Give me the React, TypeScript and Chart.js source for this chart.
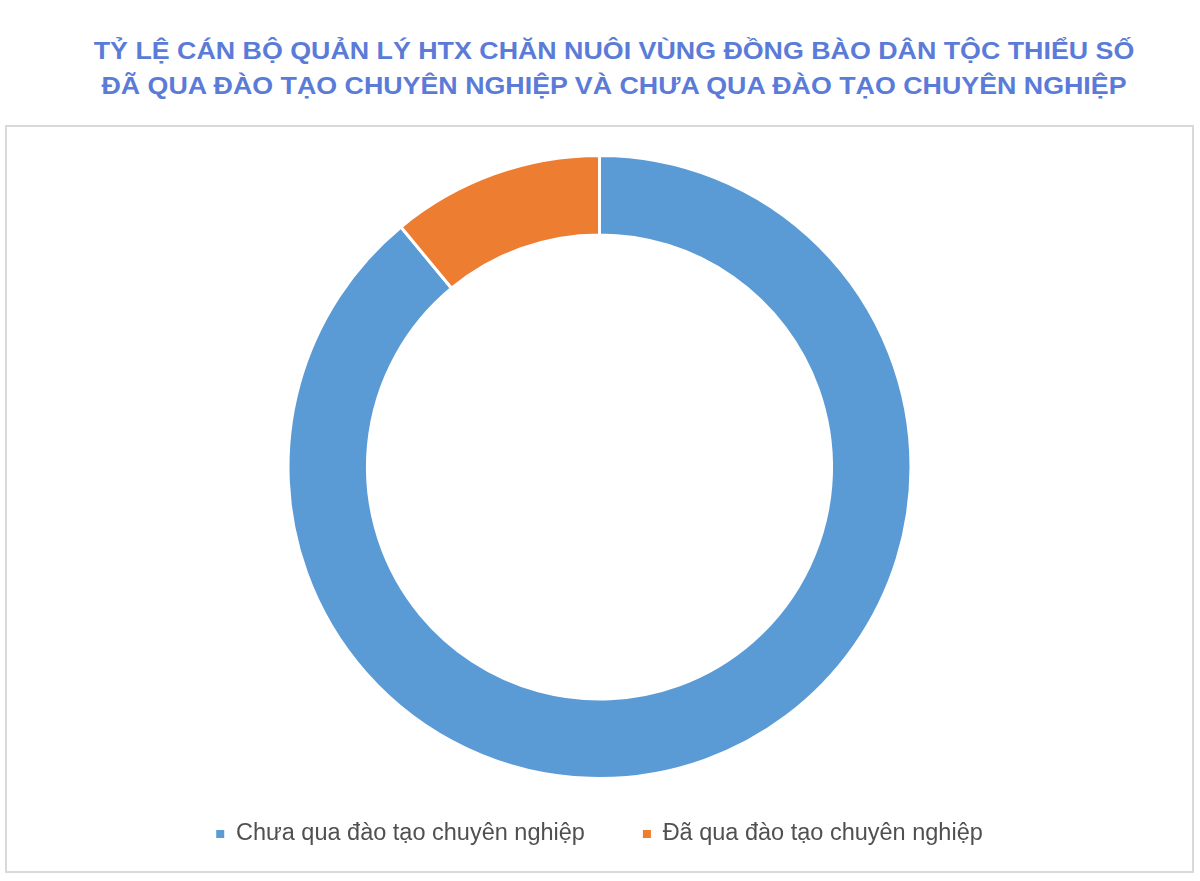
import React, { useEffect, useRef } from "react";
import { Chart, registerables } from "chart.js";

Chart.register(...registerables);

const TITLE_LINES = [
  "TỶ LỆ CÁN BỘ QUẢN LÝ HTX CHĂN NUÔI VÙNG ĐỒNG BÀO DÂN TỘC THIỂU SỐ",
  "ĐÃ QUA ĐÀO TẠO CHUYÊN NGHIỆP VÀ CHƯA QUA ĐÀO TẠO CHUYÊN NGHIỆP",
];
const CATEGORIES = ["Chưa qua đào tạo chuyên nghiệp", "Đã qua đào tạo chuyên nghiệp"];
const VALUES = [89, 11];
const COLORS = ["#5B9BD5", "#ED7D31"];

export default function App() {
  const canvasRef = useRef<HTMLCanvasElement | null>(null);

  useEffect(() => {
    if (!canvasRef.current) return;
    const chart = new Chart(canvasRef.current, {
      type: "doughnut",
      data: {
        labels: CATEGORIES,
        datasets: [
          {
            data: VALUES,
            backgroundColor: COLORS,
            borderColor: "#ffffff",
            borderWidth: 3,
            hoverOffset: 0,
          },
        ],
      },
      options: {
        responsive: false,
        animation: false,
        events: [],
        cutout: "74.5%",
        layout: { padding: { top: 27, bottom: 15.25, left: 0, right: 0 } },
        plugins: {
          tooltip: { enabled: false },
          title: { display: false },
          legend: {
            display: true,
            position: "bottom",
            title: {
              display: true,
              text: "",
              font: { size: 10, lineHeight: 1.2 },
              padding: -13.875,
            },
            labels: {
              boxWidth: 8,
              boxHeight: 8,
              padding: 58,
              color: "#505050",
              font: { family: "'Liberation Sans', Arial, sans-serif", size: 23.5 },
              generateLabels: (c: any) => {
                const base = (Chart as any).overrides.doughnut.plugins.legend.labels.generateLabels(c);
                return base.map((it: any) => ({ ...it, lineWidth: 0, strokeStyle: "rgba(0,0,0,0)" }));
              },
            },
          },
        },
      },
    });
    return () => chart.destroy();
  }, []);

  return (
    <div
      style={{
        position: "absolute",
        left: 0,
        top: 0,
        width: 1200,
        height: 881,
        background: "#ffffff",
        overflow: "hidden",
      }}
    >
      <div
        style={{
          position: "absolute",
          left: 0,
          top: 34,
          width: 1228,
          textAlign: "center",
          fontFamily: "'Liberation Sans', Arial, sans-serif",
          fontWeight: "bold",
          fontSize: 23,
          lineHeight: "35px",
          color: "#5B7BD8",
          transform: "scaleX(1.165)",
          transformOrigin: "614px 0",
          whiteSpace: "nowrap",
        }}
      >
        {TITLE_LINES.map((t, i) => (
          <div key={i}>{t}</div>
        ))}
      </div>
      <div
        style={{
          position: "absolute",
          left: 5,
          top: 125,
          width: 1185,
          height: 744,
          border: "2px solid #D9D9D9",
        }}
      >
        <canvas ref={canvasRef} width={1185} height={744} style={{ display: "block" }} />
      </div>
    </div>
  );
}
